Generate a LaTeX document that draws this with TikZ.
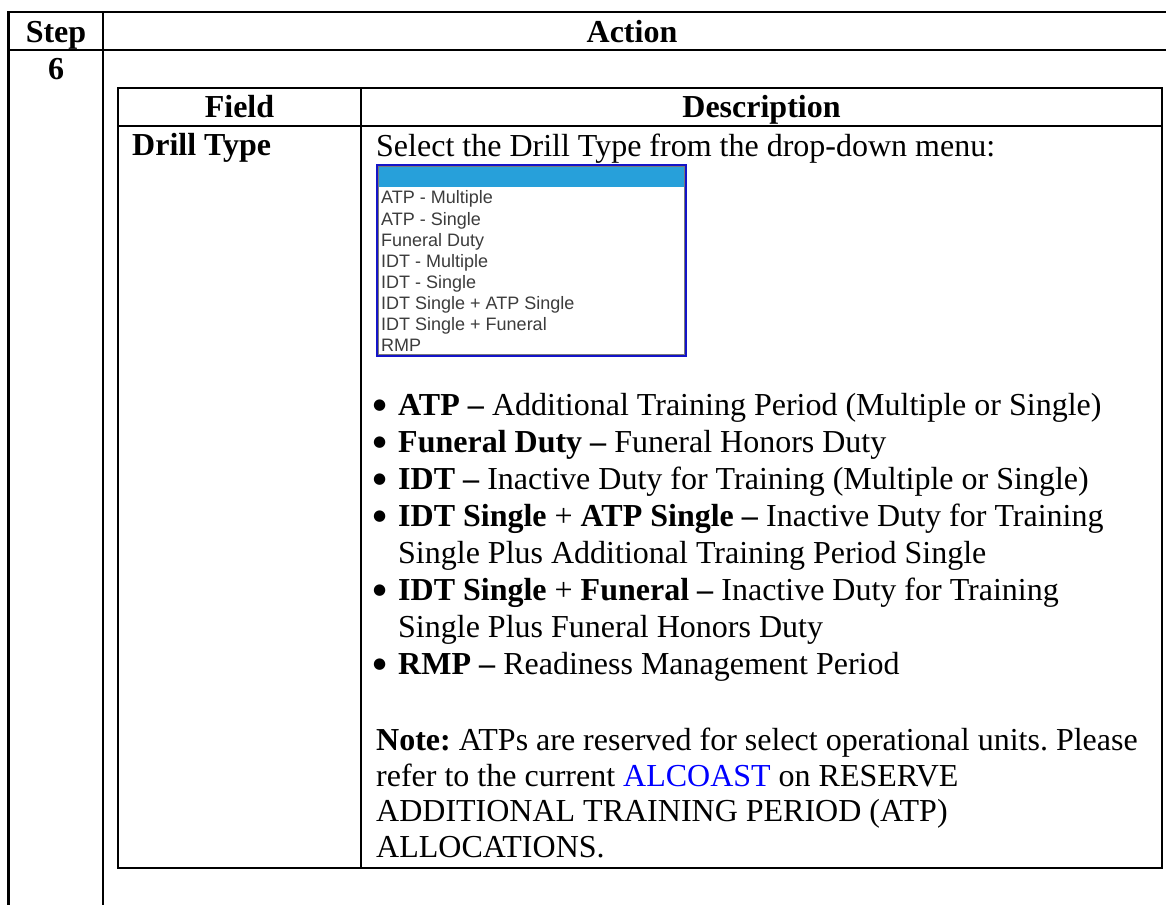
\documentclass[tikz,border=0pt]{standalone}
\usepackage{fontspec}
\setmainfont{Liberation Serif}
\newfontfamily\menufont{Liberation Sans}
\newfontfamily\dotfont{DejaVu Sans}
\definecolor{menublue}{HTML}{27A0DA}
\definecolor{menuborder}{HTML}{1414C8}
\definecolor{menuedge}{HTML}{7A7A7A}
\definecolor{menutext}{HTML}{3C3C3C}
\definecolor{linkblue}{HTML}{0000FF}
\frenchspacing
\begin{document}
\begin{tikzpicture}[x=1pt,y=-1pt,
  body/.style={anchor=base west, inner sep=0pt, font=\frenchspacing\fontsize{32}{36}\selectfont},
  head/.style={anchor=base, inner sep=0pt, font=\fontsize{32}{36}\selectfont\bfseries},
  menuitem/.style={anchor=base west, inner sep=0pt, text=menutext, font=\menufont\fontsize{18}{21}\selectfont},
  bulletdot/.style={anchor=base west, inner sep=0pt, font=\dotfont\fontsize{15}{15}\selectfont},
  outerrule/.style={line width=2.8pt},
  innerrule/.style={line width=2.2pt}]
\clip (0,0) rectangle (1166,904);
\fill[white] (0,0) rectangle (1166,904);

% outer step/action table
\draw[outerrule] (8.5,910) -- (8.5,12) -- (1170,12);
\draw[outerrule] (8.5,50) -- (1170,50);
\draw[outerrule] (103,12) -- (103,910);

% inner field/description table
\draw[innerrule] (118,88) rectangle (1162,868);
\draw[innerrule] (118,126) -- (1162,126);
\draw[innerrule] (361,88) -- (361,868);

% header texts
\node[head] (step) at (56,43) {Step};
\node[head] (action) at (632,43) {Action};
\node[head] (num) at (56,80) {6};
\node[head] (field) at (239.5,118) {Field};
\node[head] (desc) at (761.5,118) {Description};
\node[body, font=\fontsize{32}{36}\selectfont\bfseries] (drill) at (132,156) {Drill Type};
\node[body] (select) at (376,157) {Select the Drill Type from the drop-down menu:};

% drop-down list
\fill[menublue] (377,165) rectangle (686,187);
\draw[menuedge, line width=1pt] (378.5,166.5) rectangle (684.5,354.5);
\draw[menuborder, line width=2pt] (377,165) rectangle (686,356);
\foreach \t [count=\i from 0] in {ATP - Multiple, ATP - Single, Funeral Duty, IDT - Multiple, IDT - Single, IDT Single + ATP Single, IDT Single + Funeral, RMP}
  \node[menuitem] (opt\i) at (381,204+21.1*\i) {\t};

% bullet list
\foreach \i in {0,1,2,3,5,7}
  \node[bulletdot] (dot\i) at (373,409+37.1*\i) {●};
\node[body] (l0) at (398,415) {\textbf{ATP –} Additional Training Period (Multiple or Single)};
\node[body] (l1) at (398,452.1) {\textbf{Funeral Duty –} Funeral Honors Duty};
\node[body] (l2) at (398,489.2) {\textbf{IDT –} Inactive Duty for Training (Multiple or Single)};
\node[body] (l3) at (398,526.3) {\textbf{IDT Single} + \textbf{ATP Single –} Inactive Duty for Training};
\node[body] (l4) at (398,563.4) {Single Plus Additional Training Period Single};
\node[body] (l5) at (398,600.5) {\textbf{IDT Single} + \textbf{Funeral –} Inactive Duty for Training};
\node[body] (l6) at (398,637.6) {Single Plus Funeral Honors Duty};
\node[body] (l7) at (398,674.7) {\textbf{RMP –} Readiness Management Period};

% note paragraph
\node[body] (n0) at (376,750) {\textbf{Note:} ATPs are reserved for select operational units. Please};
\node[body] (n1) at (376,786) {refer to the current \textcolor{linkblue}{ALCOAST} on RESERVE};
\node[body] (n2) at (376,821) {ADDITIONAL TRAINING PERIOD (ATP)};
\node[body] (n3) at (376,857) {ALLOCATIONS.};
\end{tikzpicture}
\end{document}
